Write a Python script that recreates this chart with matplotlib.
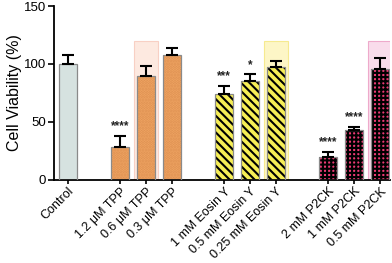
import matplotlib.pyplot as plt
import numpy as np

plt.rcParams['font.family'] = ['Liberation Sans', 'DejaVu Sans']

labels = ['Control', '1.2 μM TPP', '0.6 μM TPP', '0.3 μM TPP',
          '1 mM Eosin Y', '0.5 mM Eosin Y', '0.25 mM Eosin Y',
          '2 mM P2CK', '1 mM P2CK', '0.5 mM P2CK']
positions = [0, 2, 3, 4, 6, 7, 8, 10, 11, 12]
viability = [100, 28, 90, 108, 74, 85, 97, 20, 43, 96]
errors = [8, 10, 8, 6, 7, 6, 6, 4, 3, 9]
stars = ['', '****', '', '', '***', '*', '', '****', '****', '']
highlighted = [2, 6, 9]  # index of bars with shaded box

face = ['#d6e2e0', '#f2a765', '#f2a765', '#f2a765',
        '#f6ee55', '#f6ee55', '#f6ee55', '#ea3a74', '#ea3a74', '#ea3a74']
hatch = ['', '......', '......', '......',
         '\\\\\\\\', '\\\\\\\\', '\\\\\\\\', '++++', '++++', '++++']
hatch_col = ['#d6e2e0', '#dc8f50', '#dc8f50', '#dc8f50', 'black', 'black', 'black',
             'black', 'black', 'black']
box_face = {2: '#fde9e0', 6: '#fdf6c6', 9: '#f9dceb'}
box_edge = {2: '#f8d0c4', 6: '#f6ea90', 9: '#eeaacb'}

fig, ax = plt.subplots(figsize=(3.92, 2.63), dpi=100)
fig.subplots_adjust(left=0.138, right=0.995, bottom=0.316, top=0.977)

for i in highlighted:
    ax.bar(positions[i], 120, width=0.9, color=box_face[i],
           edgecolor=box_edge[i], linewidth=0.8, zorder=1)

plt.rcParams['hatch.linewidth'] = 1.5
for i in range(len(labels)):
    ax.bar(positions[i], viability[i], width=0.7, color=face[i],
           hatch=hatch[i], edgecolor=hatch_col[i], linewidth=0, zorder=2)
    ax.bar(positions[i], viability[i], width=0.7, fill=False,
           edgecolor='#8a8a8a', linewidth=0.9, zorder=3)

ax.errorbar(positions, viability, yerr=[np.zeros(len(errors)), errors],
            fmt='none', ecolor='black', elinewidth=1.5, capsize=4,
            capthick=1.5, zorder=4)

for p, v, e, s in zip(positions, viability, errors, stars):
    if s:
        ax.text(p, v + e + 3, s, ha='center', va='bottom', fontsize=8.5,
                fontweight='bold', color='#222222')

ax.set_xlim(-0.54, 12.38)
ax.set_ylim(0, 150)
ax.set_yticks([0, 50, 100, 150])
ax.set_xticks(positions)
ax.set_xticklabels(labels, rotation=45, ha='right', rotation_mode='anchor',
                   fontsize=9)
ax.tick_params(axis='y', labelsize=9.5, width=1.2, length=4, pad=2)
ax.tick_params(axis='x', width=1.2, length=3, pad=1)
ax.set_ylabel('Cell Viability (%)', fontsize=11.5, labelpad=1)
ax.spines['top'].set_visible(False)
ax.spines['right'].set_visible(False)
ax.spines['left'].set_linewidth(1.3)
ax.spines['bottom'].set_linewidth(1.3)

plt.savefig('out.png', dpi=100)
